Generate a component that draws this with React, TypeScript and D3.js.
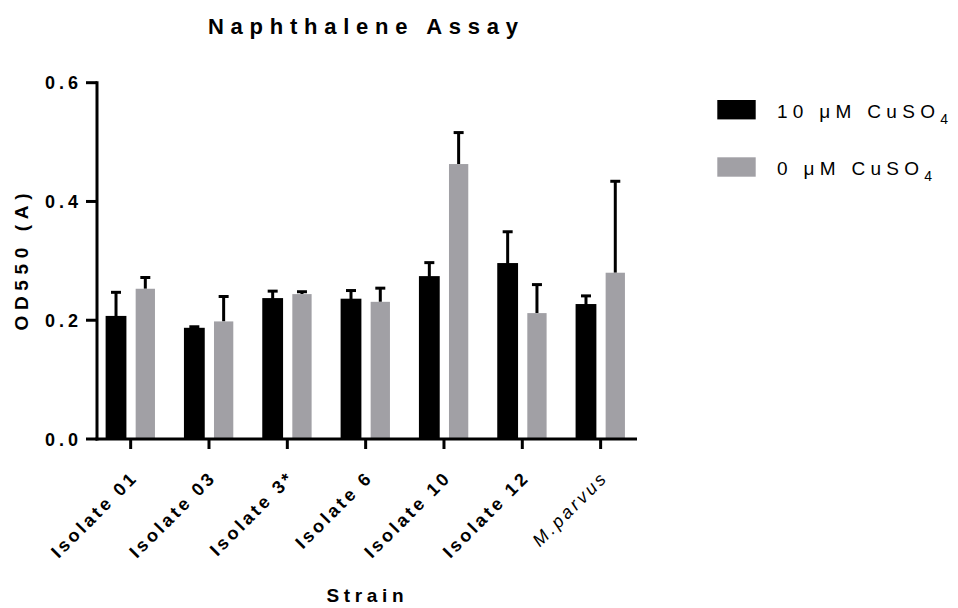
import React from "react";
import * as d3 from "d3";

const categories = ["Isolate 01", "Isolate 03", "Isolate 3*", "Isolate 6", "Isolate 10", "Isolate 12", "M.parvus"];
const cu10 = [0.206, 0.186, 0.236, 0.235, 0.273, 0.295, 0.226];
const cu10Err = [0.041, 0.003, 0.013, 0.015, 0.024, 0.054, 0.015];
const cu0 = [0.253, 0.198, 0.244, 0.231, 0.463, 0.212, 0.280];
const cu0Err = [0.019, 0.042, 0.004, 0.023, 0.053, 0.048, 0.154];
const yTicks = [0.0, 0.2, 0.4, 0.6];

const W = 958, H = 608;
const FONT = "'Liberation Sans', Arial, Helvetica, sans-serif";
const GRAY = "#a1a0a5";

export default function App() {
  const x = d3.scaleBand<string>().domain(categories).range([91.5, 639.8]).padding(0);
  const y = d3.scaleLinear().domain([0, 0.6]).range([439, 82.7]);
  const axisX0 = 97;
  const axisX1 = 637;
  const barW = 19.3;
  const gap = 5;
  const cx = (c: string) => (x(c) as number) + x.bandwidth() / 2;

  const series = [
    { vals: cu10, errs: cu10Err, fill: "#000", off: -gap - barW },
    { vals: cu0, errs: cu0Err, fill: GRAY, off: gap },
  ];

  return (
    <svg width={W} height={H} style={{ position: "absolute", left: 0, top: 0, background: "#fff" }} fontFamily={FONT}>
      <rect x={0} y={0} width={W} height={H} fill="#fff" />
      {/* Title */}
      <text x={363} y={34} textAnchor="middle" fontWeight="bold" fontSize={22} textLength={310} lengthAdjust="spacing">
        Naphthalene Assay
      </text>

      {/* bars */}
      {series.map((s, si) =>
        categories.map((c, i) => {
          const bx = cx(c) + s.off;
          const top = y(s.vals[i]);
          const et = y(s.vals[i] + s.errs[i]);
          const mid = bx + barW / 2;
          return (
            <g key={`${si}-${i}`}>
              <line x1={mid} x2={mid} y1={top} y2={et} stroke="#000" strokeWidth={3} />
              <line x1={mid - 5} x2={mid + 5} y1={et} y2={et} stroke="#000" strokeWidth={3} />
              <rect x={bx} y={top} width={barW} height={y(0) - top} fill={s.fill}
                stroke={si === 0 ? "#000" : "none"} strokeWidth={si === 0 ? 1.5 : 0} />
            </g>
          );
        })
      )}

      {/* Y axis */}
      <line x1={axisX0} x2={axisX0} y1={y(0.6) - 1.5} y2={y(0) + 1.5} stroke="#000" strokeWidth={3} />
      {yTicks.map((t) => (
        <g key={t}>
          <line x1={86} x2={axisX0} y1={y(t)} y2={y(t)} stroke="#000" strokeWidth={3} />
          <text x={78} y={y(t) + 6.5} textAnchor="end" fontWeight="bold" fontSize={18} textLength={33} lengthAdjust="spacing">
            {t.toFixed(1)}
          </text>
        </g>
      ))}
      <text transform={`translate(28,262) rotate(-90)`} textAnchor="middle" fontWeight="bold" fontSize={19} textLength={137} lengthAdjust="spacing">
        OD550 (A)
      </text>

      {/* X axis */}
      <line x1={axisX0 - 1.5} x2={axisX1} y1={y(0)} y2={y(0)} stroke="#000" strokeWidth={3} />
      {categories.map((c) => (
        <g key={c}>
          <line x1={cx(c)} x2={cx(c)} y1={y(0)} y2={449} stroke="#000" strokeWidth={3} />
          <text
            transform={`translate(${cx(c) + 4},${474}) rotate(-45)`}
            textAnchor="end"
            dy="0.35em"
            fontWeight={c === "M.parvus" ? "normal" : "bold"}
            fontStyle={c === "M.parvus" ? "italic" : "normal"}
            fontSize={18}
            letterSpacing={c === "M.parvus" ? 3 : 3.2}
          >
            {c}
          </text>
        </g>
      ))}
      <text x={365} y={602} textAnchor="middle" fontWeight="bold" fontSize={19} textLength={77} lengthAdjust="spacing">
        Strain
      </text>

      {/* Legend */}
      {[
        { fill: "#000", label: "10 \u03bcM CuSO", y0: 100 },
        { fill: GRAY, label: "0 \u03bcM CuSO", y0: 157.3 },
      ].map((l) => (
        <g key={l.label}>
          <rect x={717.3} y={l.y0} width={38.4} height={19.4} fill={l.fill} />
          <text x={777} y={l.y0 + 18} fontSize={19} letterSpacing={5.3}>
            {l.label}
            <tspan fontSize={14} dy={6}>4</tspan>
          </text>
        </g>
      ))}
    </svg>
  );
}
